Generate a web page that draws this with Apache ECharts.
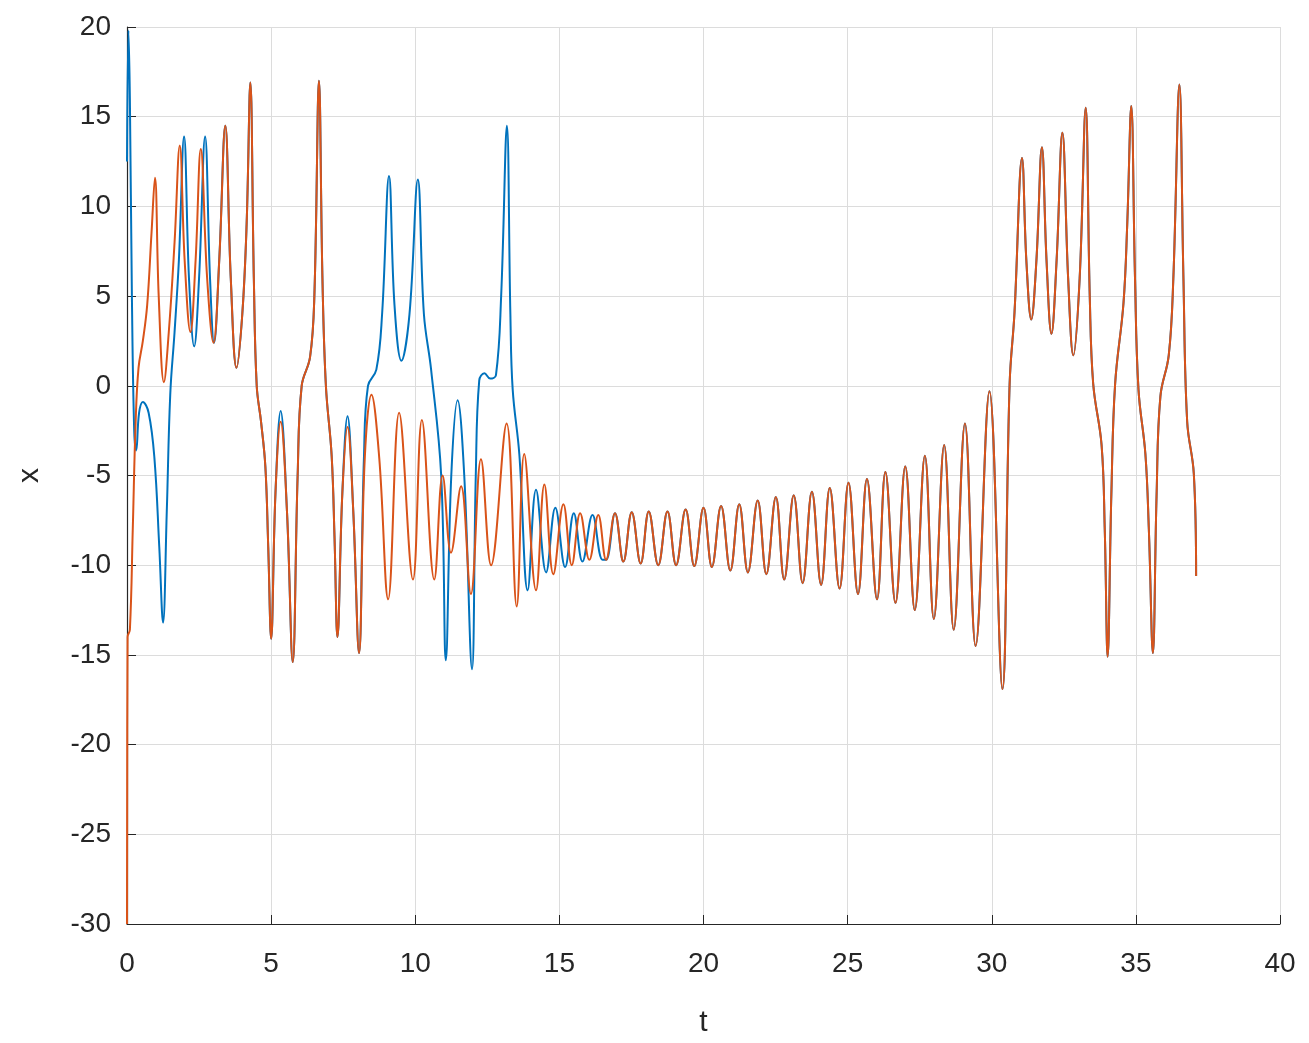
<!DOCTYPE html>
<html>
<head>
<meta charset="utf-8">
<script src="https://cdn.jsdelivr.net/npm/echarts@6/dist/echarts.min.js"></script>
<style>
html,body{margin:0;padding:0;background:#fff;}
#chart{width:1309px;height:1043px;}
</style>
</head>
<body>
<div id="chart"></div>
<script>
// x ticks and y ticks
var tTicks = [0, 5, 10, 15, 20, 25, 30, 35, 40];
var xTicks = [-30, -25, -20, -15, -10, -5, 0, 5, 10, 15, 20];

// orange series (second trajectory)
var orangeT = [0,0.02,0.1,0.2,0.3,0.4,0.55,0.7,0.85,0.97,1.1,1.28,1.45,1.65,1.83,2.0,2.2,2.38,2.56,2.78,3.0,3.2,3.41,3.6,3.8,4.0,4.15,4.28,4.4,4.5,4.65,4.8,4.9,5.0,5.15,5.33,5.55,5.75,5.92,6.06,6.35,6.5,6.66,6.78,6.9,7.1,7.2,7.3,7.47,7.65,7.85,8.05,8.25,8.48,8.75,9.06,9.44,9.92,10.23,10.66,10.95,11.24,11.59,11.93,12.28,12.63,13.17,13.52,13.78,14.19,14.48,14.79,15.14,15.43,15.72,16.04,16.35,16.62,16.93,17.22,17.51,17.82,18.1,18.43,18.75,19.05,19.38,19.68,20.0,20.29,20.61,20.93,21.24,21.54,21.88,22.18,22.51,22.8,23.13,23.44,23.76,24.08,24.38,24.72,25.03,25.36,25.67,26.02,26.31,26.66,27.0,27.33,27.68,27.99,28.35,28.68,29.07,29.44,29.92,30.37,30.62,30.79,31.05,31.2,31.37,31.55,31.74,31.9,32.07,32.25,32.45,32.65,32.83,33.05,33.26,33.4,33.52,33.81,33.92,34.02,34.15,34.28,34.57,34.7,34.84,34.97,35.09,35.33,35.45,35.59,35.72,35.85,36.14,36.3,36.51,36.65,36.78,37.01,37.09];
var orangeX = [-30,-14,-13.6,-8,-2,1,2.5,4.5,8.5,11.6,5,0.2,3,8,13.4,7,3,7,13.2,6,2.4,7,14.5,6,1,4,9,16.9,6,0,-2,-4.5,-9,-14.1,-6,-2,-7,-15.4,-5,0,1.6,5,17,6,0,-3.9,-8.5,-14,-6,-2.3,-7,-14.9,-4,-0.5,-4,-11.9,-1.5,-10.8,-1.9,-10.8,-5.0,-9.3,-5.6,-11.6,-4.1,-10,-2.1,-12.3,-3.8,-11.4,-5.5,-10.5,-6.6,-10,-7.1,-9.7,-7.2,-9.7,-7.1,-9.8,-7.05,-9.9,-7.0,-10,-7.0,-10,-6.9,-10.05,-6.8,-10.1,-6.7,-10.3,-6.6,-10.4,-6.4,-10.5,-6.2,-10.8,-6.1,-11,-5.9,-11.1,-5.7,-11.3,-5.4,-11.6,-5.2,-11.9,-4.8,-12.1,-4.5,-12.5,-3.9,-13,-3.3,-13.6,-2.1,-14.5,-0.3,-16.9,0.1,4.1,12.7,7,3.7,7,13.3,7,2.9,7,14.1,6,1.7,6,15.5,5,0.1,-3.3,-8,-15.1,-6,0.1,4.6,9,15.6,6,-0.2,-3.8,-8,-14.9,-6,-0.6,1.7,6,16.8,6,-2,-4.9,-10.6];

// blue series (first trajectory) until it locks onto the orange one
var blueT = [0,0.05,0.1,0.17,0.25,0.32,0.42,0.55,0.75,0.95,1.12,1.25,1.38,1.5,1.65,1.8,1.98,2.15,2.33,2.5,2.71,2.88,3.02,3.2,3.41,3.6,3.8,4.0,4.15,4.28,4.4,4.5,4.65,4.8,4.9,5.0,5.15,5.33,5.55,5.75,5.92,6.06,6.35,6.5,6.66,6.78,6.9,7.1,7.2,7.3,7.47,7.65,7.85,8.05,8.22,8.36,8.65,8.85,9.09,9.28,9.52,9.8,10.09,10.3,10.55,10.9,11.06,11.25,11.47,11.7,11.97,12.1,12.22,12.4,12.6,12.8,12.98,13.18,13.3,13.38,13.61,13.9,14.19,14.54,14.86,15.2,15.5,15.8,16.15,16.5];
var blueX = [12.5,19.8,16,5,-2.5,-3.6,-1.5,-0.9,-1.5,-4,-9,-13.2,-7,-0.5,3,7,13.9,6,2.2,6,13.9,6,2.4,7,14.5,6,1,4,9,16.9,6,0,-2,-4.5,-9,-14.1,-6,-1.4,-7,-15.4,-5,0,1.6,5,17,6,0,-3.9,-8.5,-14,-6,-1.7,-7,-14.9,-4,0,0.9,4,11.7,4.5,1.4,4,11.5,4,0.9,-5,-15.3,-5,-0.8,-5,-15.8,-5,0.3,0.7,0.4,0.6,5,14.5,4,-0.2,-3.8,-11.4,-5.8,-10.4,-6.8,-10.1,-7.1,-9.8,-7.2,-9.7];

function pairs(ts, xs) {
  var out = [];
  for (var i = 0; i < ts.length; i++) out.push([ts[i], xs[i]]);
  return out;
}
var orangeData = pairs(orangeT, orangeX);
var blueData = pairs(blueT, blueX);
// after synchronisation the blue trajectory coincides with the orange one
for (var i = 0; i < orangeT.length; i++) {
  if (orangeT[i] > blueT[blueT.length - 1]) blueData.push([orangeT[i], orangeX[i]]);
}

var FONT = 'Liberation Sans, Arial, Helvetica, sans-serif';
var chart = echarts.init(document.getElementById('chart'), null, {renderer: 'canvas'});
chart.setOption({
  backgroundColor: '#ffffff',
  animation: false,
  grid: {left: 127, right: 29, top: 27, bottom: 111, containLabel: false},
  xAxis: {
    type: 'value',
    min: tTicks[0], max: tTicks[tTicks.length - 1], interval: 5,
    name: 't', nameLocation: 'middle', nameGap: 84,
    nameTextStyle: {fontFamily: FONT, fontSize: 30, color: '#262626'},
    axisLine: {show: true, onZero: false, lineStyle: {color: '#262626', width: 1.2}},
    axisTick: {show: true, inside: true, length: 9, lineStyle: {color: '#262626'}},
    axisLabel: {fontFamily: FONT, fontSize: 28, color: '#262626', margin: 26},
    splitLine: {show: true, lineStyle: {color: '#dcdcdc', width: 1}}
  },
  yAxis: {
    type: 'value',
    min: xTicks[0], max: xTicks[xTicks.length - 1], interval: 5,
    name: 'x', nameLocation: 'middle', nameGap: 82, nameRotate: 90,
    nameTextStyle: {fontFamily: FONT, fontSize: 30, color: '#262626'},
    axisLine: {show: true, onZero: false, lineStyle: {color: '#262626', width: 1.2}},
    axisTick: {show: true, inside: true, length: 9, lineStyle: {color: '#262626'}},
    axisLabel: {fontFamily: FONT, fontSize: 28, color: '#262626', margin: 16},
    splitLine: {show: true, lineStyle: {color: '#dcdcdc', width: 1}}
  },
  series: [
    {
      type: 'line', data: blueData, showSymbol: false, symbol: 'none',
      smooth: 0.4,
      lineStyle: {color: '#0072BD', width: 2}, z: 2
    },
    {
      type: 'line', data: orangeData, showSymbol: false, symbol: 'none',
      smooth: 0.4,
      lineStyle: {color: '#D95319', width: 2}, z: 3
    }
  ]
});
</script>
</body>
</html>
